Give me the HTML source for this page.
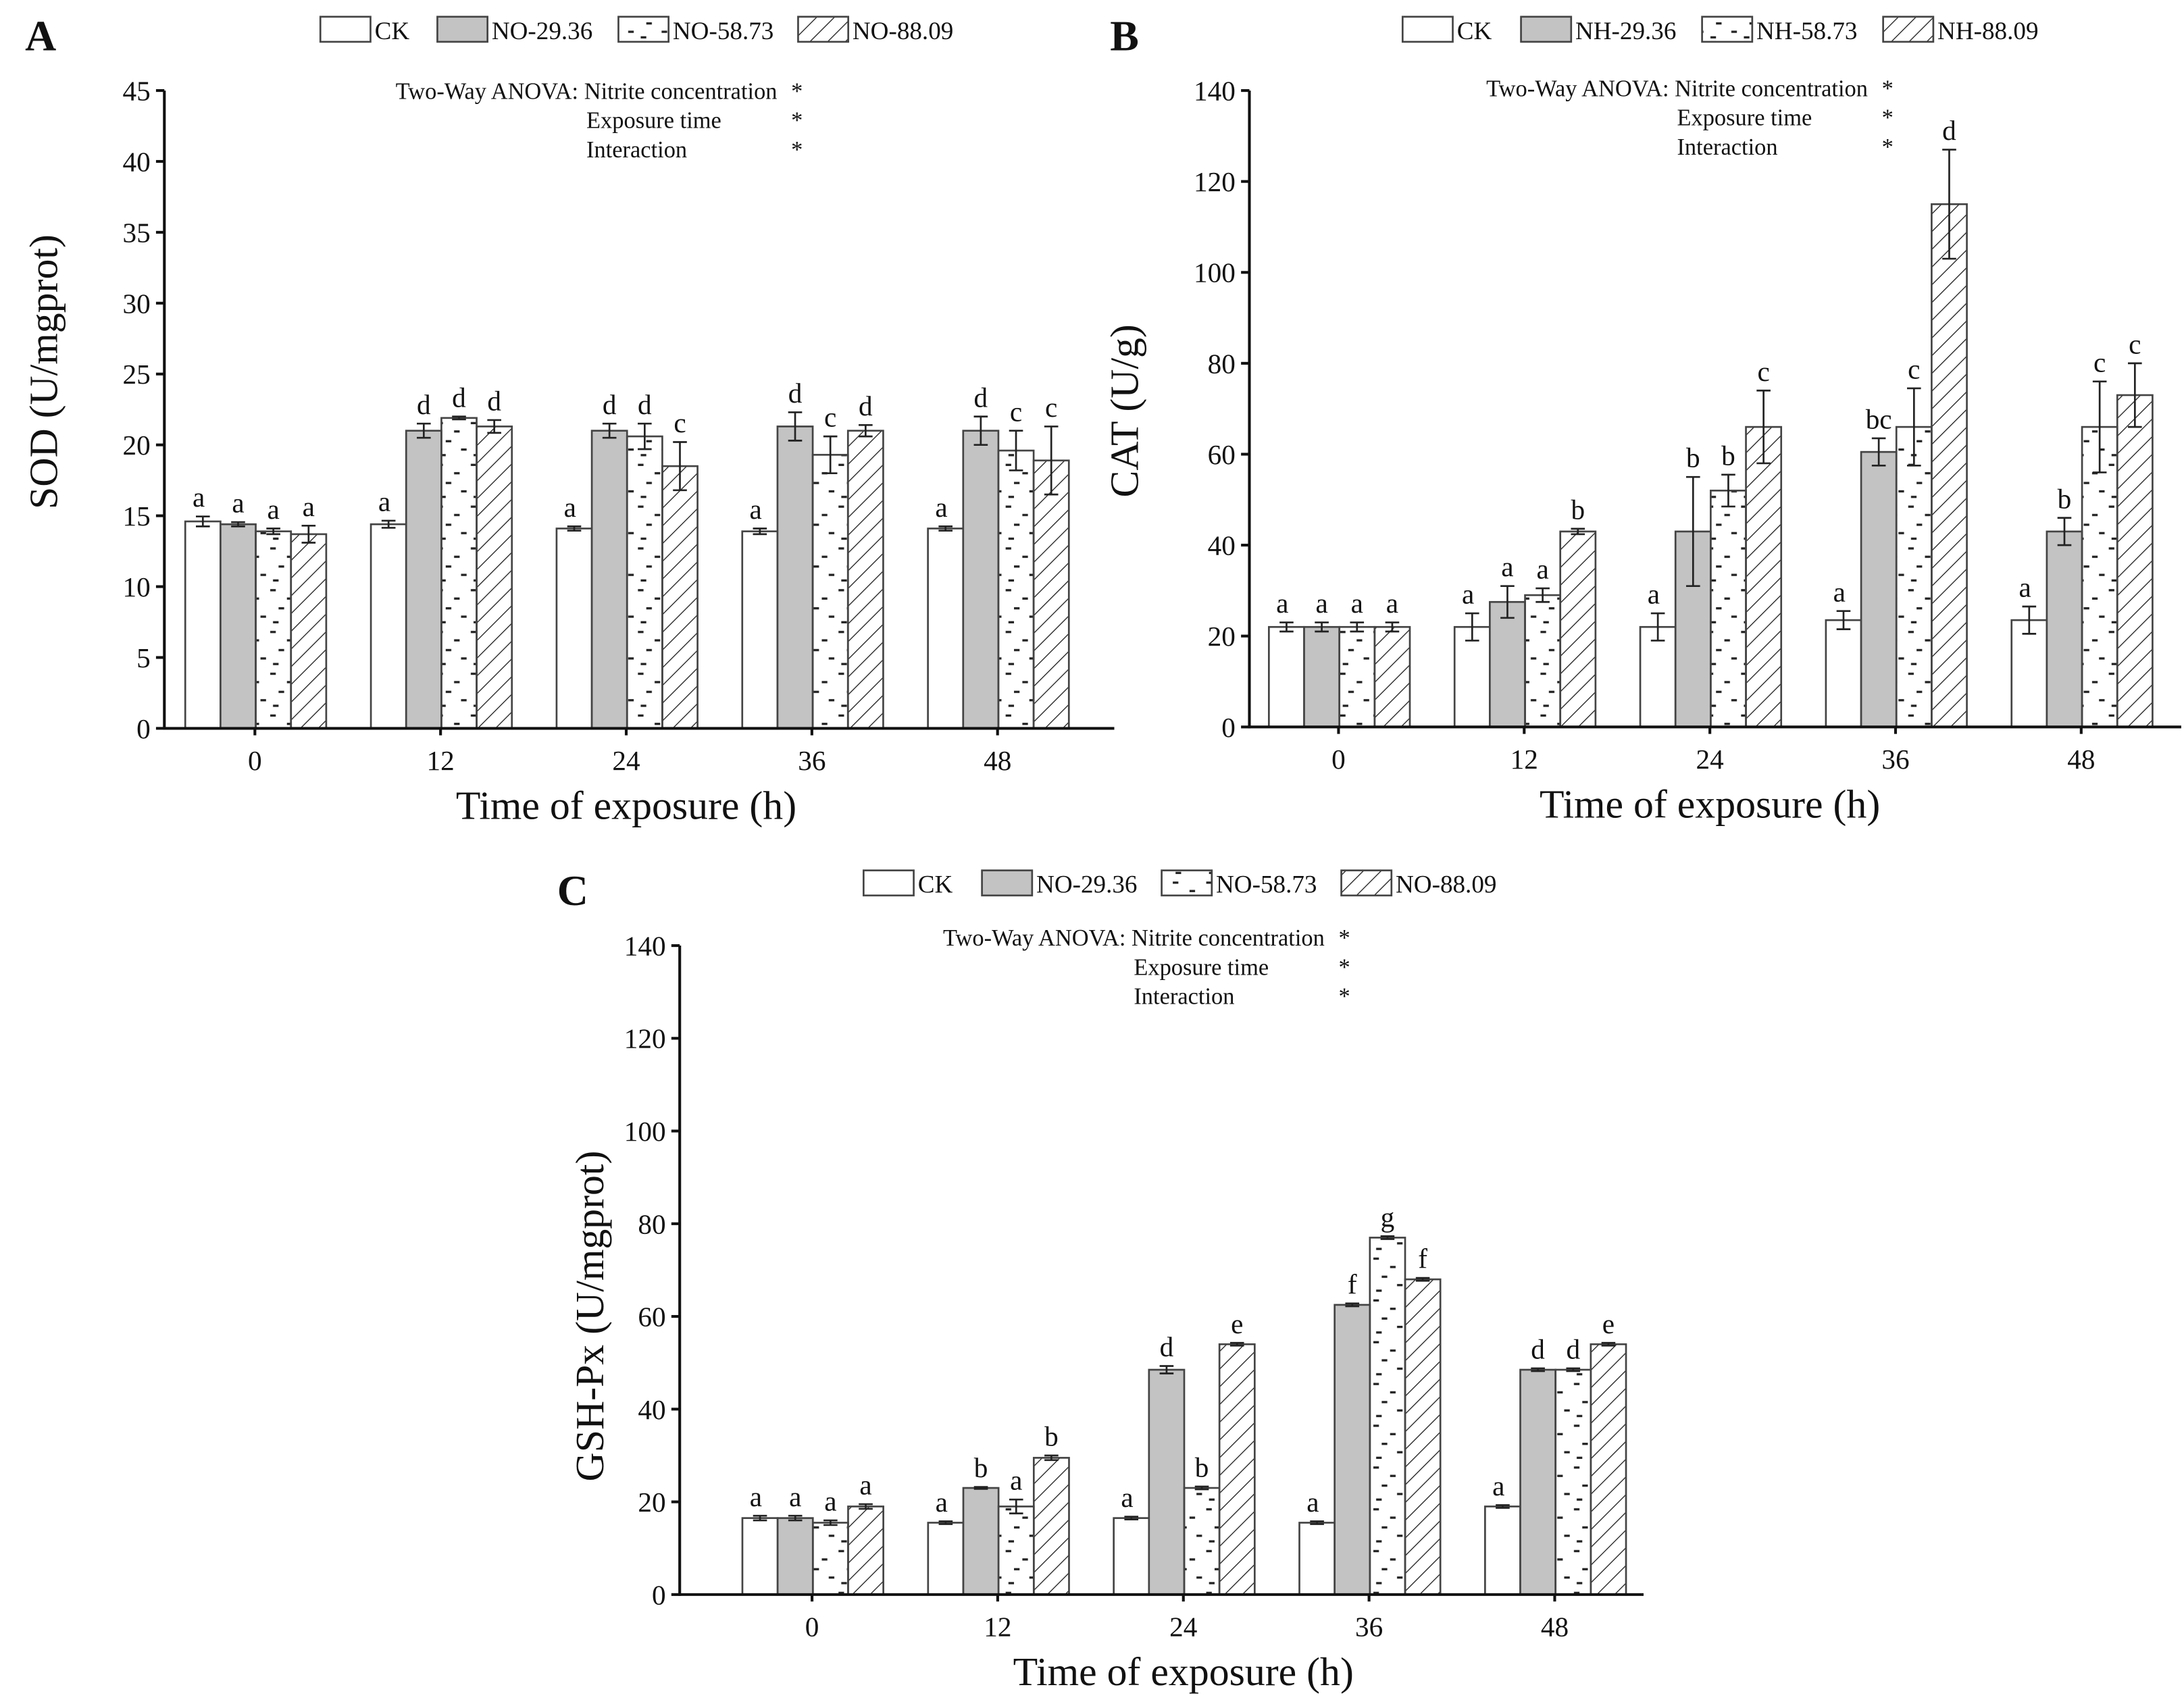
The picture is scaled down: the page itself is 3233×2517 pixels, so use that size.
<!DOCTYPE html>
<html><head><meta charset="utf-8"><style>
html,body{margin:0;padding:0;background:#fff;}
svg{display:block;}
text{font-family:"Liberation Serif",serif;fill:#111;}
</style></head><body>
<svg id="fig" xmlns="http://www.w3.org/2000/svg" width="3233" height="2517" viewBox="0 0 1568 1220.7">
<defs>
<pattern id="dots" patternUnits="userSpaceOnUse" width="24" height="30">
<rect x="2" y="3" width="4" height="1.6" fill="#222"/><rect x="14" y="9" width="4" height="1.6" fill="#222"/>
<rect x="8" y="16" width="4" height="1.6" fill="#222"/><rect x="19" y="22" width="4" height="1.6" fill="#222"/>
<rect x="4" y="26" width="4" height="1.6" fill="#222"/>
</pattern>
<pattern id="hatch" patternUnits="userSpaceOnUse" width="9" height="9" patternTransform="rotate(45)">
<line x1="0" y1="0" x2="0" y2="9" stroke="#222" stroke-width="1.3"/>
</pattern>
</defs>
<g id="root"></g>
</svg>
<script>
const categories = ["0","12","24","36","48"];
// Panel A (SOD)
const sodCK   = [14.6,14.4,14.1,13.9,14.1];
const sodN29  = [14.4,21.0,21.0,21.3,21.0];
const sodN58  = [13.9,21.9,20.6,19.3,19.6];
const sodN88  = [13.7,21.3,18.5,21.0,18.9];
const sodErrCK  = [0.35,0.25,0.15,0.2,0.15];
const sodErrN29 = [0.15,0.5,0.5,1.0,1.0];
const sodErrN58 = [0.2,0.1,0.9,1.3,1.4];
const sodErrN88 = [0.6,0.45,1.7,0.4,2.4];
const sodLetters = [["a","a","a","a"],["a","d","d","d"],["a","d","d","c"],["a","d","c","d"],["a","d","c","c"]];
const sodTicks = [0,5,10,15,20,25,30,35,40,45];
// Panel B (CAT)
const catCK   = [22,22,22,23.5,23.5];
const catN29  = [22,27.5,43,60.5,43];
const catN58  = [22,29,52,66,66];
const catN88  = [22,43,66,115,73];
const catErrCK  = [1,3,3,2,3];
const catErrN29 = [1,3.5,12,3,3];
const catErrN58 = [1,1.5,3.5,8.5,10];
const catErrN88 = [1,0.6,8,12,7];
const catLetters = [["a","a","a","a"],["a","a","a","b"],["a","b","b","c"],["a","bc","c","d"],["a","b","c","c"]];
const catTicks = [0,20,40,60,80,100,120,140];
// Panel C (GSH-Px)
const gshCK   = [16.5,15.5,16.5,15.5,19];
const gshN29  = [16.5,23,48.5,62.5,48.5];
const gshN58  = [15.5,19,23,77,48.5];
const gshN88  = [19,29.5,54,68,54];
const gshErrCK  = [0.5,0.3,0.3,0.3,0.3];
const gshErrN29 = [0.5,0.2,0.8,0.3,0.3];
const gshErrN58 = [0.5,1.5,0.3,0.3,0.3];
const gshErrN88 = [0.5,0.5,0.3,0.3,0.3];
const gshLetters = [["a","a","a","a"],["a","b","a","b"],["a","d","b","e"],["a","f","g","f"],["a","d","d","e"]];
const gshTicks = [0,20,40,60,80,100,120,140];

const NS="http://www.w3.org/2000/svg";
const root=document.getElementById('root');
function el(tag,attrs,parent,txt){const e=document.createElementNS(NS,tag);for(const k in attrs)e.setAttribute(k,attrs[k]);if(txt!==undefined)e.textContent=txt;(parent||root).appendChild(e);return e;}
const fills=["#fff","#c3c3c3","url(#dots)","url(#hatch)"];

function panel(o){
  const g=el('g',{});
  
  
  const y=v=>o.y0-(v/o.max)*(o.y0-o.yTop);
  const xc=i=>o.c0+133.3*i;
  const L=el('text',{x:o.lx,y:o.ly,'font-size':31,'font-weight':'bold'},g,o.letter);
  
  o.legend.forEach((t,k)=>{
    const bx=o.legX[k];
    const r=el('rect',{x:bx,y:o.legY,width:36,height:18,fill:fills[k],stroke:'#444','stroke-width':1.3},g);
    
    const tx=el('text',{x:bx+39,y:o.legY+16,'font-size':18},g,t);
    
  });
  const an=el('g',{'font-size':16.7},g);
  
  el('text',{x:o.anR,y:o.anY,'text-anchor':'end'},an,'Two-Way ANOVA: Nitrite concentration');
  el('text',{x:o.anR-137,y:o.anY+21},an,'Exposure time');
  el('text',{x:o.anR-137,y:o.anY+42},an,'Interaction');
  [0,21,42].forEach(d=>el('text',{x:o.anR+10,y:o.anY+d},an,'*'));
  o.series.forEach((s,k)=>{
    s.forEach((v,i)=>{
      const bx=xc(i)-50+25.3*k, top=y(v);
      const b=el('rect',{x:bx,y:top,width:25.3,height:o.y0-top,fill:fills[k],stroke:'#444','stroke-width':1.3},g);
      
      
      const e=o.errs[k][i], cx=bx+12.65;
      const eg=el('g',{stroke:'#222','stroke-width':1.3},g);
      
      
      el('line',{x1:cx,x2:cx,y1:y(v+e),y2:y(v-e)},eg);
      el('line',{x1:cx-5,x2:cx+5,y1:y(v+e),y2:y(v+e)},eg);
      el('line',{x1:cx-5,x2:cx+5,y1:y(v-e),y2:y(v-e)},eg);
      const lt=el('text',{x:cx-(k==0?3:0),y:y(v+e)-7,'font-size':20,'text-anchor':'middle'},g,o.letters[i][k]);
      
      
    });
  });
  const ax=el('g',{stroke:'#111','stroke-width':2},g);
  
  el('line',{x1:o.x0,x2:o.x0,y1:o.yTop,y2:o.y0+1},ax);
  el('line',{x1:o.x0,x2:o.xEnd,y1:o.y0,y2:o.y0},ax);
  o.ticks.forEach(t=>{
    el('line',{x1:o.x0-6,x2:o.x0,y1:y(t),y2:y(t)},ax);
    const tl=el('text',{x:o.x0-10,y:y(t)+7,'font-size':20,'text-anchor':'end'},g,String(t));
    
  });
  categories.forEach((c,i)=>{
    el('line',{x1:xc(i),x2:xc(i),y1:o.y0,y2:o.y0+5},ax);
    const tl=el('text',{x:xc(i),y:o.y0+30,'font-size':20,'text-anchor':'middle'},g,c);
    
  });
  const xt=el('text',{x:xc(2),y:o.y0+65,'font-size':29,'text-anchor':'middle'},g,'Time of exposure (h)');
  
  const ym=o.ymid;
  const yt=el('text',{x:o.ytx,y:ym,'font-size':29,'text-anchor':'middle',transform:`rotate(-90 ${o.ytx} ${ym})`},g,o.ytitle);
  
}

panel({name:'panel-a-sod',letter:'A',lx:18,ly:36,x0:118,xEnd:800,y0:523,yTop:65,max:45,c0:183,
  legend:['CK','NO-29.36','NO-58.73','NO-88.09'],legX:[230,314,444,573],legY:12,
  anR:558,anY:71,series:[sodCK,sodN29,sodN58,sodN88],errs:[sodErrCK,sodErrN29,sodErrN58,sodErrN88],
  letters:sodLetters,ticks:sodTicks,ytitle:'SOD (U/mgprot)',ytx:41,ymid:267});
panel({name:'panel-b-cat',letter:'B',lx:797,ly:36,x0:897,xEnd:1566,y0:522,yTop:65,max:140,c0:961,
  legend:['CK','NH-29.36','NH-58.73','NH-88.09'],legX:[1007,1092,1222,1352],legY:12,
  anR:1341,anY:69,series:[catCK,catN29,catN58,catN88],errs:[catErrCK,catErrN29,catErrN58,catErrN88],
  letters:catLetters,ticks:catTicks,ytitle:'CAT (U/g)',ytx:817,ymid:295});
panel({name:'panel-c-gsh',letter:'C',lx:400,ly:650,x0:488,xEnd:1180,y0:1145,yTop:679,max:140,c0:583,
  legend:['CK','NO-29.36','NO-58.73','NO-88.09'],legX:[620,705,834,963],legY:625,
  anR:951,anY:679,series:[gshCK,gshN29,gshN58,gshN88],errs:[gshErrCK,gshErrN29,gshErrN58,gshErrN88],
  letters:gshLetters,ticks:gshTicks,ytitle:'GSH-Px (U/mgprot)',ytx:433,ymid:945});
</script>
</body></html>
